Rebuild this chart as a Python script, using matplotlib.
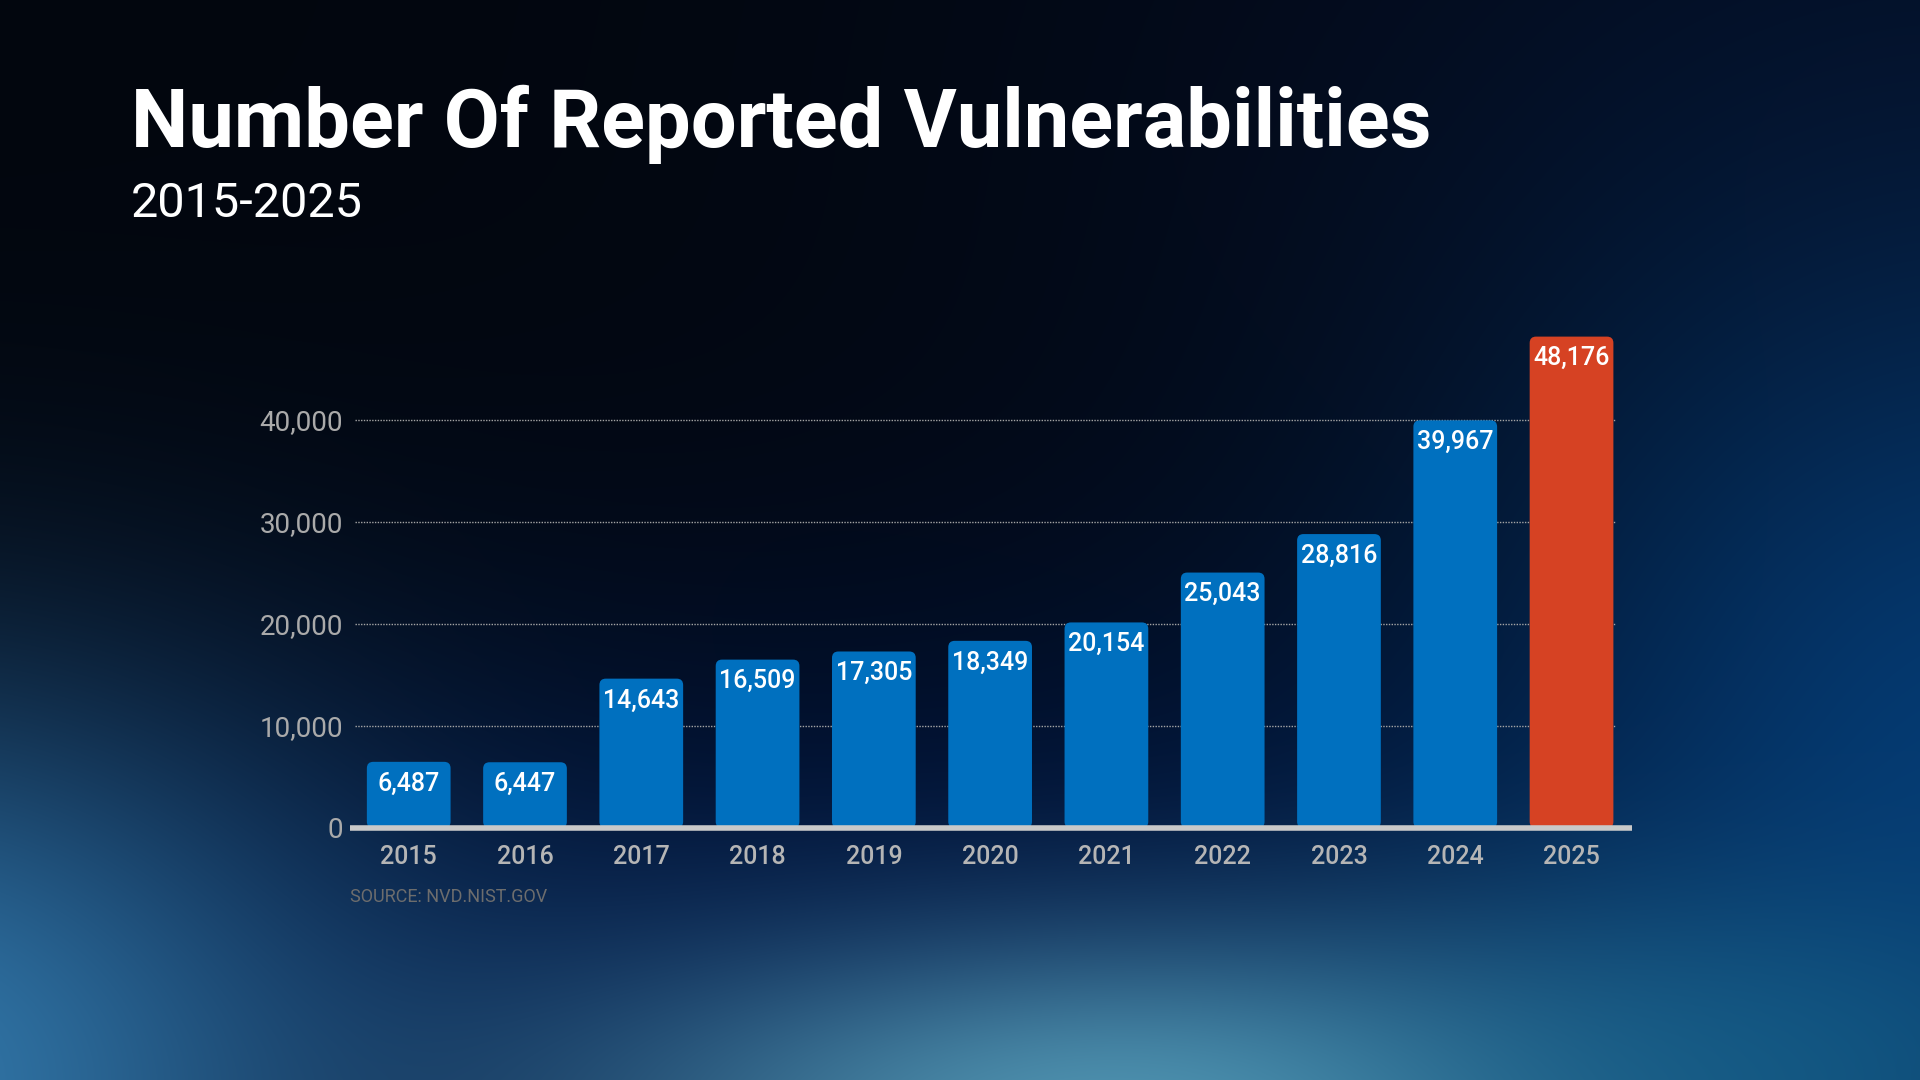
import matplotlib.pyplot as plt
import numpy as np
from matplotlib.patches import FancyBboxPatch

# data
years = ["2015", "2016", "2017", "2018", "2019", "2020", "2021", "2022", "2023", "2024", "2025"]
counts = [6487, 6447, 14643, 16509, 17305, 18349, 20154, 25043, 28816, 39967, 48176]
y_ticks = [0, 10000, 20000, 30000, 40000]

blue = "#0070bf"
red = "#d64223"
bar_colors = [blue] * (len(years) - 1) + [red]

plt.rcParams['font.family'] = ['Roboto', 'DejaVu Sans']

W, H = 1920, 1080
fig = plt.figure(figsize=(W / 100, H / 100), dpi=100)

# background glow
yy, xx = np.mgrid[0:H, 0:W].astype(float)
img = np.zeros((H, W, 3))
img[:] = (0.008, 0.024, 0.055)
blobs = [
    # (cx, cy, rx, ry, strength, rgb)
    (1900, 80, 900, 600, 0.6, (0.02, 0.07, 0.19)),
    (950, 1020, 1300, 380, 0.9, (0.0, 0.10, 0.30)),
    (2000, 760, 520, 520, 0.8, (0.02, 0.27, 0.52)),
    (-120, 1080, 460, 380, 0.95, (0.20, 0.48, 0.68)),
    (1150, 1110, 600, 180, 0.95, (0.33, 0.60, 0.71)),
    (1750, 1080, 400, 200, 0.6, (0.06, 0.38, 0.55)),
]
for cx, cy, rx, ry, s, rgb in blobs:
    w = s * np.exp(-((xx - cx) / rx) ** 2 - ((yy - cy) / ry) ** 2)
    img = img * (1 - w[..., None]) + np.array(rgb) * w[..., None]

bg = fig.add_axes([0, 0, 1, 1])
bg.imshow(img, aspect='auto', extent=(0, 1, 0, 1), origin='upper')
bg.axis('off')

ax = fig.add_axes([350 / W, 252 / H, 1282 / W, 510 / H])
ax.set_facecolor('none')

x = np.arange(len(years))
bars = ax.bar(x, counts, width=0.72, color=bar_colors)

# swap rectangles for rounded ones
aspect = (10000 / 102) * 116
for b, col in zip(bars, bar_colors):
    p = FancyBboxPatch((b.get_x(), b.get_y()), b.get_width(), b.get_height(),
                       boxstyle="round,pad=0,rounding_size=0.055",
                       mutation_aspect=aspect, facecolor=col, edgecolor='none', zorder=2)
    ax.add_patch(p)
    b.remove()

for xi, v in zip(x, counts):
    ax.annotate(f"{v:,}", (xi, v), xytext=(0, -7), textcoords='offset points',
                ha='center', va='top', color='white', fontsize=18, fontweight='medium', zorder=4)

ax.hlines(y_ticks[1:], -0.46, 10.38, colors='#a5a5a5', linewidth=1.0,
          linestyles=(0, (1, 1)), zorder=1)
ax.axhline(0, color='#c9c9c9', linewidth=4, zorder=3, solid_capstyle='butt', clip_on=False)

ax.set_xlim(-0.505, 10.52)
ax.set_ylim(0, 50000)
ax.set_xticks(x)
ax.set_xticklabels(years, fontsize=18, color='#b5b5b5', fontweight='medium')
ax.set_yticks(y_ticks)
ax.set_yticklabels([f"{t:,}" for t in y_ticks], fontsize=20, color='#aaaaaa')
ax.tick_params(axis='x', length=0, pad=12)
ax.tick_params(axis='y', length=0, pad=5)
for s in ax.spines.values():
    s.set_visible(False)

fig.text(131 / W, 1 - 147 / H, "Number Of Reported Vulnerabilities", color='white',
         fontsize=58.5, fontweight='bold', va='baseline', ha='left')
fig.text(131 / W, 1 - 217 / H, "2015-2025", color='white',
         fontsize=35, fontweight='normal', va='baseline', ha='left')
fig.text(350 / W, 1 - 902 / H, "SOURCE: NVD.NIST.GOV", color='#6d6d6d',
         fontsize=13, va='baseline', ha='left')

fig.savefig('out.png', dpi=100)
